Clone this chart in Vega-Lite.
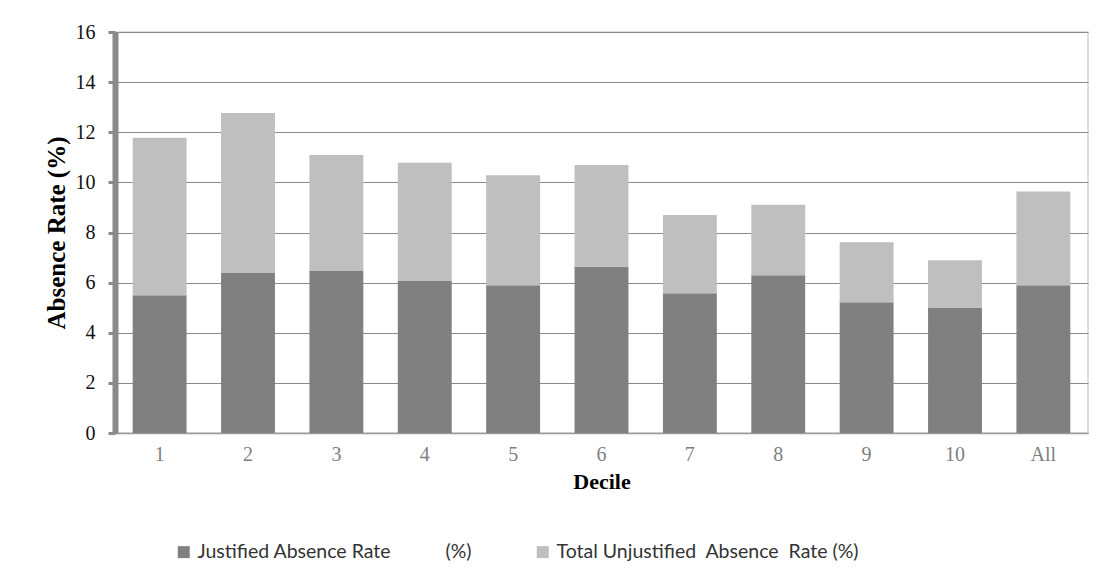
{
  "$schema": "https://vega.github.io/schema/vega-lite/v6.json",
  "width": 973,
  "height": 401,
  "autosize": {"type": "none"},
  "padding": {"left": 115, "top": 32, "right": 20, "bottom": 147},
  "background": "white",
  "config": {
    "view": {"stroke": "#d4d4d4", "strokeWidth": 1.5},
    "font": "Liberation Serif"
  },
  "data": {
    "values": [
      {"decile": "1", "series": "Justified Absence Rate (%)", "k": 0, "rate": 5.5},
      {"decile": "1", "series": "Total Unjustified Absence Rate (%)", "k": 1, "rate": 6.28},
      {"decile": "2", "series": "Justified Absence Rate (%)", "k": 0, "rate": 6.4},
      {"decile": "2", "series": "Total Unjustified Absence Rate (%)", "k": 1, "rate": 6.37},
      {"decile": "3", "series": "Justified Absence Rate (%)", "k": 0, "rate": 6.48},
      {"decile": "3", "series": "Total Unjustified Absence Rate (%)", "k": 1, "rate": 4.61},
      {"decile": "4", "series": "Justified Absence Rate (%)", "k": 0, "rate": 6.08},
      {"decile": "4", "series": "Total Unjustified Absence Rate (%)", "k": 1, "rate": 4.7},
      {"decile": "5", "series": "Justified Absence Rate (%)", "k": 0, "rate": 5.9},
      {"decile": "5", "series": "Total Unjustified Absence Rate (%)", "k": 1, "rate": 4.38},
      {"decile": "6", "series": "Justified Absence Rate (%)", "k": 0, "rate": 6.63},
      {"decile": "6", "series": "Total Unjustified Absence Rate (%)", "k": 1, "rate": 4.06},
      {"decile": "7", "series": "Justified Absence Rate (%)", "k": 0, "rate": 5.58},
      {"decile": "7", "series": "Total Unjustified Absence Rate (%)", "k": 1, "rate": 3.12},
      {"decile": "8", "series": "Justified Absence Rate (%)", "k": 0, "rate": 6.29},
      {"decile": "8", "series": "Total Unjustified Absence Rate (%)", "k": 1, "rate": 2.82},
      {"decile": "9", "series": "Justified Absence Rate (%)", "k": 0, "rate": 5.22},
      {"decile": "9", "series": "Total Unjustified Absence Rate (%)", "k": 1, "rate": 2.39},
      {"decile": "10", "series": "Justified Absence Rate (%)", "k": 0, "rate": 4.99},
      {"decile": "10", "series": "Total Unjustified Absence Rate (%)", "k": 1, "rate": 1.9},
      {"decile": "All", "series": "Justified Absence Rate (%)", "k": 0, "rate": 5.9},
      {"decile": "All", "series": "Total Unjustified Absence Rate (%)", "k": 1, "rate": 3.74}
    ]
  },
  "mark": {"type": "bar"},
  "encoding": {
    "x": {
      "field": "decile",
      "type": "ordinal",
      "sort": ["1", "2", "3", "4", "5", "6", "7", "8", "9", "10", "All"],
      "scale": {"paddingInner": 0.39, "paddingOuter": 0.2},
      "axis": {
        "title": "Decile",
        "titleFont": "Liberation Serif",
        "titleFontSize": 22,
        "titleFontWeight": "bold",
        "titleColor": "#000000",
        "titlePadding": 7,
        "labelAngle": 0,
        "labelFont": "Liberation Serif",
        "labelFontSize": 20,
        "labelColor": "#7f7f7f",
        "labelPadding": 11,
        "ticks": false,
        "domainColor": "#9a9a9a",
        "domainWidth": 1.5,
        "grid": false
      }
    },
    "y": {
      "field": "rate",
      "type": "quantitative",
      "stack": "zero",
      "scale": {"domain": [0, 16], "nice": false},
      "axis": {
        "title": "Absence Rate (%)",
        "titleFont": "Liberation Serif",
        "titleFontSize": 25,
        "titleFontWeight": "bold",
        "titleColor": "#000000",
        "titlePadding": 6,
        "values": [0, 2, 4, 6, 8, 10, 12, 14, 16],
        "labelFont": "Liberation Serif",
        "labelFontSize": 20,
        "labelColor": "#111111",
        "labelPadding": 13,
        "tickSize": 7,
        "tickWidth": 3,
        "tickColor": "#8a8a8a",
        "domainColor": "#8a8a8a",
        "domainWidth": 6,
        "gridColor": "#8a8a8a",
        "gridWidth": 1,
        "gridOpacity": 1
      }
    },
    "color": {
      "field": "series",
      "type": "nominal",
      "scale": {
        "domain": ["Justified Absence Rate (%)", "Total Unjustified Absence Rate (%)"],
        "range": ["#808080", "#bfbfbf"]
      },
      "legend": {
        "title": null,
        "orient": "none",
        "direction": "horizontal",
        "legendX": 59,
        "legendY": 510,
        "symbolType": "square",
        "symbolSize": 144,
        "symbolStrokeWidth": 0,
        "symbolOpacity": 1,
        "labelFont": "Lato",
        "labelFontSize": 19.5,
        "labelColor": "#333333",
        "labelOffset": 4,
        "labelLimit": 450,
        "columnPadding": 60,
        "labelExpr": "datum.value == 'Justified Absence Rate (%)' ? 'Justified Absence Rate\u00a0\u00a0\u00a0\u00a0\u00a0\u00a0\u00a0\u00a0\u00a0\u00a0\u00a0(%)' : 'Total Unjustified\u00a0 Absence\u00a0 Rate (%)'"
      }
    },
    "order": {"field": "k", "type": "quantitative"}
  }
}
